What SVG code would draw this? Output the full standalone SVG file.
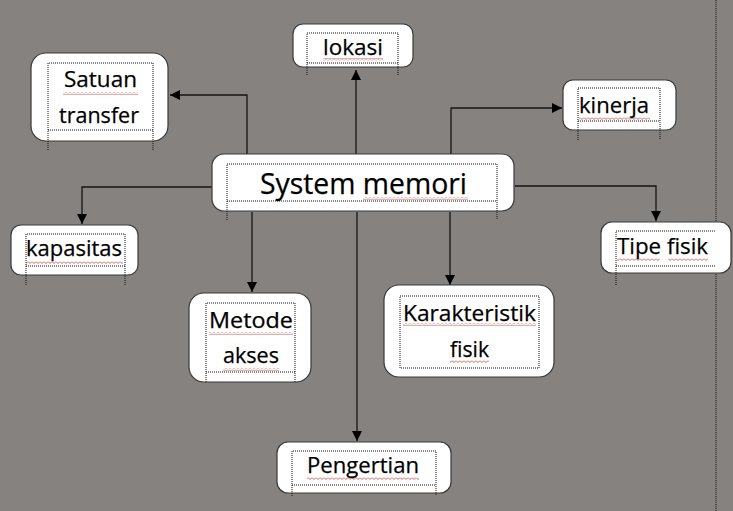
<svg xmlns="http://www.w3.org/2000/svg" width="733" height="511" viewBox="0 0 733 511">
<style>
.box{fill:#fff;stroke:#3a3a3a;stroke-width:1.2}
.dot{fill:none;stroke:#111;stroke-width:1;stroke-dasharray:1 1}
.t{font-family:"Open Sans","Noto Sans","Liberation Sans",sans-serif;font-size:22.5px;fill:#000;stroke:#000;stroke-width:0.25}
.big{font-size:29.5px}
.conn{fill:none;stroke:#151515;stroke-width:1.3}
.wave{fill:url(#wv)}
</style>
<defs>
<marker id="ah" viewBox="0 0 10 10" refX="10" refY="5" markerWidth="11" markerHeight="10" markerUnits="userSpaceOnUse" orient="auto">
<path d="M0,0 L10,5 L0,10 z" fill="#000"/>
</marker>
<pattern id="wv" patternUnits="userSpaceOnUse" width="4" height="3">
<path d="M0,0.5 L2,2.5 L4,0.5" fill="none" stroke="#c0392b" stroke-width="0.8"/>
</pattern>
</defs>
<rect x="0" y="0" width="733" height="511" fill="#86827f"/>
<line x1="716" y1="0" x2="716" y2="511" class="dot"/>

<g id="connectors">
<path class="conn" d="M247,155 V95 H170" marker-end="url(#ah)"/>
<path class="conn" d="M356,155 V70" marker-end="url(#ah)"/>
<path class="conn" d="M451,155 V108 H562" marker-end="url(#ah)"/>
<path class="conn" d="M212,187 H82 V224" marker-end="url(#ah)"/>
<path class="conn" d="M515,186 H656 V221" marker-end="url(#ah)"/>
<path class="conn" d="M252,212 V292" marker-end="url(#ah)"/>
<path class="conn" d="M450,212 V285" marker-end="url(#ah)"/>
<path class="conn" d="M357,212 V441" marker-end="url(#ah)"/>
</g>

<g id="system-memori">
<rect class="box" x="212" y="154" width="302" height="57" rx="12"/>
<path class="dot" d="M227,220 V164 H497 V220 M227,201 H497"/>
<rect class="wave" x="363" y="197" width="105" height="3"/>
<text class="t big" x="260" y="194" textLength="207" lengthAdjust="spacingAndGlyphs">System memori</text>
</g>

<g id="lokasi">
<rect class="box" x="293" y="24" width="120" height="43" rx="10"/>
<path class="dot" d="M307,75 V33 H398 V75 M307,63 H398"/>
<rect class="wave" x="323" y="58" width="60" height="3"/>
<text class="t" x="323" y="55" textLength="60" lengthAdjust="spacingAndGlyphs">lokasi</text>
</g>

<g id="satuan-transfer">
<rect class="box" x="31" y="53" width="137" height="88" rx="15"/>
<path class="dot" d="M48,150 V63 H153 V150 M48,130 H153"/>
<rect class="wave" x="63" y="92" width="75" height="3"/>
<text class="t" x="64" y="87" textLength="73" lengthAdjust="spacingAndGlyphs">Satuan</text>
<text class="t" x="59" y="123" textLength="80" lengthAdjust="spacingAndGlyphs">transfer</text>
</g>

<g id="kinerja">
<rect class="box" x="563" y="80" width="113" height="50" rx="10"/>
<path class="dot" d="M578,140 V88 H660 V140 M578,121 H660"/>
<rect class="wave" x="579" y="117" width="71" height="3"/>
<text class="t" x="579" y="113" textLength="70" lengthAdjust="spacingAndGlyphs">kinerja</text>
</g>

<g id="kapasitas">
<rect class="box" x="11" y="225" width="127" height="50" rx="10"/>
<path class="dot" d="M26,285 V234 H125 V285 M26,266 H125"/>
<rect class="wave" x="26" y="261" width="97" height="3"/>
<text class="t" x="26" y="256" textLength="96" lengthAdjust="spacingAndGlyphs">kapasitas</text>
</g>

<g id="tipe-fisik">
<rect class="box" x="601" y="222" width="130" height="51" rx="11"/>
<path class="dot" d="M616,285 V231 H716 M616,266 H716"/>
<rect class="wave" x="617" y="258" width="43" height="3"/>
<rect class="wave" x="668" y="258" width="40" height="3"/>
<text class="t" x="617" y="254" textLength="91" lengthAdjust="spacingAndGlyphs">Tipe fisik</text>
</g>

<g id="metode-akses">
<rect class="box" x="189" y="293" width="122" height="89" rx="15"/>
<path class="dot" d="M206,382 V303 H295 V382 M206,372 H295"/>
<rect class="wave" x="209" y="332" width="84" height="3"/>
<rect class="wave" x="223" y="368" width="56" height="3"/>
<text class="t" x="209" y="328" textLength="84" lengthAdjust="spacingAndGlyphs">Metode</text>
<text class="t" x="223" y="363" textLength="56" lengthAdjust="spacingAndGlyphs">akses</text>
</g>

<g id="karakteristik-fisik">
<rect class="box" x="384" y="285" width="170" height="92" rx="15"/>
<path class="dot" d="M400,368 V296 H539 V368 H400"/>
<rect class="wave" x="403" y="323" width="133" height="3"/>
<rect class="wave" x="450" y="360" width="39" height="3"/>
<text class="t" x="403" y="321" textLength="133" lengthAdjust="spacingAndGlyphs">Karakteristik</text>
<text class="t" x="450" y="357" textLength="39" lengthAdjust="spacingAndGlyphs">fisik</text>
</g>

<g id="pengertian">
<rect class="box" x="277" y="442" width="174" height="51" rx="11"/>
<path class="dot" d="M292,496 V451 H436 V496 M292,485 H436"/>
<rect class="wave" x="307" y="477" width="112" height="3"/>
<text class="t" x="307" y="473" textLength="112" lengthAdjust="spacingAndGlyphs">Pengertian</text>
</g>
</svg>
